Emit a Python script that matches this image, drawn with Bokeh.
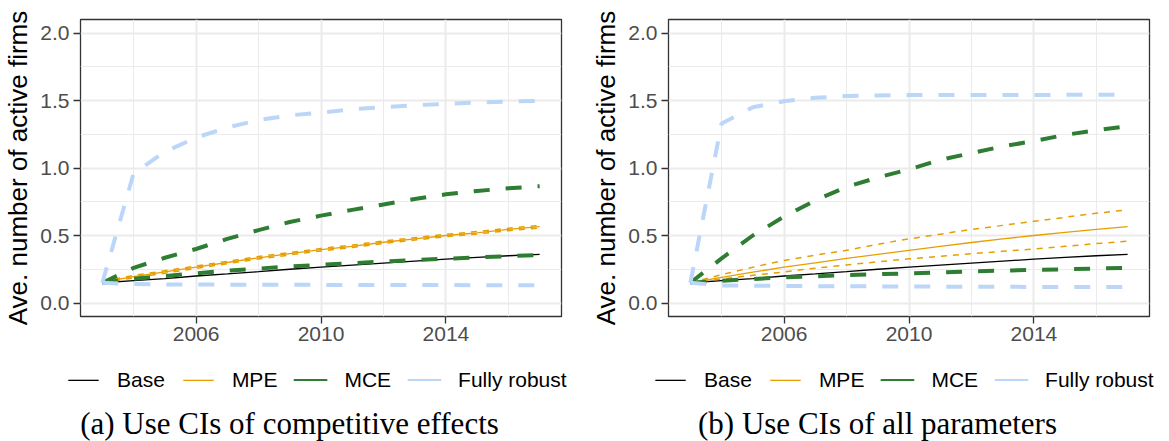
from bokeh.plotting import figure
from bokeh.models import FixedTicker, Legend, LegendItem, Label, Range1d, PrintfTickFormatter
from bokeh.layouts import row, column
from bokeh.embed import file_html
from bokeh.resources import INLINE

years = [2003, 2004, 2005, 2006, 2007, 2008, 2009, 2010, 2011, 2012, 2013, 2014, 2015, 2016, 2017]

# Panel (a): CIs of competitive effects
base_a = [0.15, 0.165, 0.18, 0.20, 0.215, 0.232, 0.25, 0.265, 0.28, 0.295, 0.31, 0.325, 0.338, 0.35, 0.36]
mpe_a = [0.155, 0.195, 0.23, 0.265, 0.30, 0.335, 0.365, 0.395, 0.42, 0.45, 0.475, 0.50, 0.52, 0.545, 0.565]
mpe_a_hi = [0.16, 0.204, 0.239, 0.274, 0.309, 0.344, 0.374, 0.404, 0.429, 0.459, 0.484, 0.509, 0.529, 0.554, 0.574]
mpe_a_lo = [0.15, 0.186, 0.221, 0.256, 0.291, 0.326, 0.356, 0.386, 0.411, 0.441, 0.466, 0.491, 0.511, 0.536, 0.556]
mce_a_hi = [0.15, 0.26, 0.335, 0.40, 0.475, 0.54, 0.60, 0.647, 0.69, 0.73, 0.77, 0.805, 0.83, 0.85, 0.865]
mce_a_lo = [0.15, 0.18, 0.20, 0.22, 0.24, 0.255, 0.27, 0.283, 0.295, 0.307, 0.318, 0.328, 0.338, 0.347, 0.355]
fr_a_hi = [0.15, 0.96, 1.12, 1.225, 1.30, 1.355, 1.39, 1.41, 1.435, 1.45, 1.465, 1.475, 1.485, 1.493, 1.498]
fr_a_lo = [0.15, 0.14, 0.138, 0.137, 0.136, 0.135, 0.135, 0.134, 0.134, 0.133, 0.133, 0.133, 0.132, 0.132, 0.132]

# Panel (b): CIs of all parameters
base_b = [0.15, 0.165, 0.18, 0.20, 0.215, 0.232, 0.25, 0.265, 0.28, 0.295, 0.31, 0.325, 0.338, 0.35, 0.36]
mpe_b = [0.15, 0.19, 0.228, 0.265, 0.298, 0.33, 0.36, 0.39, 0.42, 0.448, 0.475, 0.50, 0.523, 0.545, 0.566]
mpe_b_hi = [0.15, 0.21, 0.265, 0.315, 0.355, 0.39, 0.435, 0.475, 0.51, 0.545, 0.575, 0.605, 0.635, 0.665, 0.69]
mpe_b_lo = [0.15, 0.178, 0.205, 0.23, 0.258, 0.282, 0.305, 0.327, 0.346, 0.365, 0.383, 0.40, 0.42, 0.44, 0.458]
mce_b_hi = [0.15, 0.33, 0.50, 0.64, 0.76, 0.86, 0.93, 0.99, 1.06, 1.11, 1.16, 1.20, 1.245, 1.28, 1.31]
mce_b_lo = [0.15, 0.165, 0.178, 0.19, 0.198, 0.206, 0.213, 0.22, 0.227, 0.234, 0.24, 0.245, 0.25, 0.255, 0.26]
fr_b_hi = [0.15, 1.33, 1.45, 1.495, 1.52, 1.533, 1.537, 1.54, 1.54, 1.54, 1.541, 1.541, 1.542, 1.542, 1.542]
fr_b_lo = [0.15, 0.13, 0.128, 0.126, 0.125, 0.124, 0.123, 0.122, 0.121, 0.12, 0.12, 0.119, 0.118, 0.118, 0.118]

series_names = ["Base", "MPE", "MCE", "Fully robust"]
x_ticks = [2006, 2010, 2014]
x_minor = [2004, 2008, 2012, 2016]
y_ticks = [0.0, 0.5, 1.0, 1.5, 2.0]
y_minor = [0.25, 0.75, 1.25, 1.75]
y_title = "Ave. number of active firms"
captions = ["(a) Use CIs of competitive effects", "(b) Use CIs of all parameters"]

C_BASE = "#000000"
C_MPE = "#E69F00"
C_MCE = "#2E7D32"
C_FR = "#BBD6F8"
SANS = "Liberation Sans"


def make_panel(width, left, right, base, mpe, mpe_hi, mpe_lo, mce_hi, mce_lo, fr_hi, fr_lo):
    p = figure(width=width, height=355, output_backend="svg", toolbar_location=None,
               x_range=Range1d(2002.3, 2017.7), y_range=Range1d(-0.1, 2.1),
               min_border_left=left, min_border_right=right, min_border_top=19,
               min_border_bottom=39)
    p.frame_align = False
    p.background_fill_color = "white"
    p.border_fill_color = "white"
    p.outline_line_color = "#333333"
    p.outline_line_width = 1.3

    p.xaxis.ticker = FixedTicker(ticks=x_ticks, minor_ticks=x_minor)
    p.yaxis.ticker = FixedTicker(ticks=y_ticks, minor_ticks=y_minor)
    p.yaxis.formatter = PrintfTickFormatter(format="%.1f")
    for ax in (p.xaxis[0], p.yaxis[0]):
        ax.axis_line_color = None
        ax.major_tick_out = 7
        ax.major_tick_in = 0
        ax.minor_tick_out = 0
        ax.minor_tick_in = 0
        ax.major_tick_line_color = "#333333"
        ax.major_tick_line_width = 1.3
        ax.major_label_text_font = SANS
        ax.major_label_text_font_size = "21px"
        ax.major_label_text_color = "#4D4D4D"
    p.xaxis.major_label_standoff = 3
    p.yaxis.major_label_standoff = 4
    p.yaxis.axis_label = y_title
    p.yaxis.axis_label_text_font = SANS
    p.yaxis.axis_label_text_font_size = "26px"
    p.yaxis.axis_label_text_font_style = "normal"
    p.yaxis.axis_label_text_color = "#000000"
    p.yaxis.axis_label_standoff = 4

    for g in (p.xgrid[0], p.ygrid[0]):
        g.grid_line_color = "#EBEBEB"
        g.grid_line_width = 2
        g.minor_grid_line_color = "#EBEBEB"
        g.minor_grid_line_width = 1

    # data lines (drawn in legend order)
    p.line(years, base, line_color=C_BASE, line_width=1.3)
    p.line(years, mpe, line_color=C_MPE, line_width=1.3)
    p.line(years, mpe_hi, line_color=C_MPE, line_width=1.5, line_dash="6 6")
    p.line(years, mpe_lo, line_color=C_MPE, line_width=1.5, line_dash="6 6")
    p.line(years, mce_hi, line_color=C_MCE, line_width=4, line_dash="16 16")
    p.line(years, mce_lo, line_color=C_MCE, line_width=4, line_dash="16 16")
    p.line(years, fr_hi, line_color=C_FR, line_width=4, line_dash="16 16")
    p.line(years, fr_lo, line_color=C_FR, line_width=4, line_dash="16 16")
    return p


def make_footer(width, legend_x, caption_x, caption, base, mpe, mce, fr):
    # footer holding the legend and the caption; its ranges keep the key
    # renderers (same data) out of view so only the solid legend keys show
    f = figure(width=width, height=86, output_backend="svg", toolbar_location=None,
               x_range=Range1d(0, 1), y_range=Range1d(0, 1),
               x_axis_type=None, y_axis_type=None,
               min_border_left=0, min_border_right=0, min_border_top=0, min_border_bottom=0)
    f.frame_align = False
    f.outline_line_color = None
    f.grid.visible = False
    f.background_fill_color = "white"
    f.border_fill_color = "white"
    keys = []
    for vals, col, lw in ((base, C_BASE, 0.0), (mpe, C_MPE, 0.0), (mce, C_MCE, 3.4), (fr, C_FR, 3.4)):
        keys.append(f.quad(left=years, right=years, bottom=vals, top=vals,
                           fill_color=col, line_color=col, line_width=lw,
                           line_alpha=1.0 if lw > 0 else 0.0))
    items = [LegendItem(label=n, renderers=[r]) for n, r in zip(series_names, keys)]
    legend = Legend(items=items, orientation="horizontal", location=(legend_x, 49),
                    label_text_font=SANS, label_text_font_size="21px",
                    label_text_color="#000000",
                    glyph_width=38, glyph_height=2, label_standoff=15, spacing=14,
                    padding=5, margin=0, border_line_color=None,
                    background_fill_alpha=0)
    f.add_layout(legend, "center")
    cap = Label(x=caption_x, y=18, x_units="screen", y_units="screen", text=caption,
                text_font="Liberation Serif", text_font_size="31px", text_color="#000000",
                text_align="center", text_baseline="middle")
    f.add_layout(cap)
    return f


pa = make_panel(588, 80, 27, base_a, mpe_a, mpe_a_hi, mpe_a_lo, mce_a_hi, mce_a_lo, fr_a_hi, fr_a_lo)
pb = make_panel(581, 80, 20, base_b, mpe_b, mpe_b_hi, mpe_b_lo, mce_b_hi, mce_b_lo, fr_b_hi, fr_b_lo)
fa = make_footer(588, 64, 289, captions[0], base_a, mpe_a, mce_a_hi, fr_a_hi)
fb = make_footer(581, 63, 289, captions[1], base_b, mpe_b, mce_b_hi, fr_b_hi)

layout = row(column(pa, fa), column(pb, fb))
open("out.html", "w").write(file_html(layout, INLINE))
